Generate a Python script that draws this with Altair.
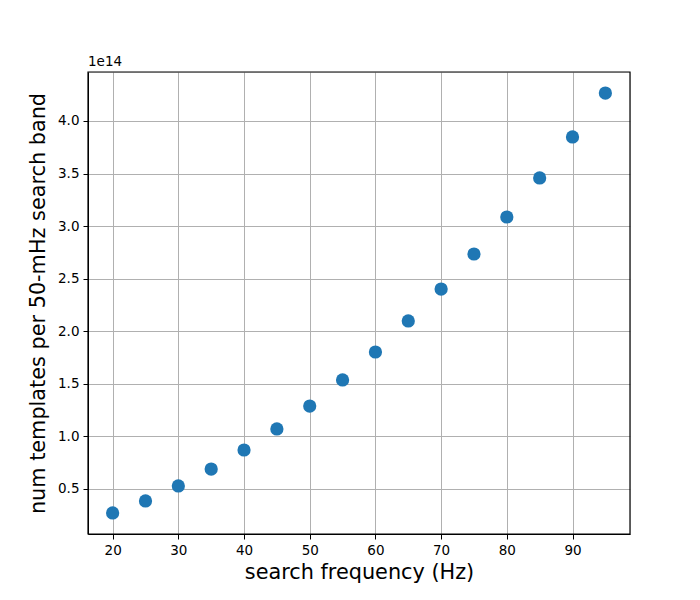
import altair as alt
import pandas as pd

freq = [20, 25, 30, 35, 40, 45, 50, 55, 60, 65, 70, 75, 80, 85, 90, 95]
templates_e14 = [0.272, 0.386, 0.529, 0.690, 0.871, 1.071, 1.289, 1.537,
                 1.803, 2.098, 2.402, 2.735, 3.087, 3.458, 3.848, 4.266]
x_ticks = [20, 30, 40, 50, 60, 70, 80, 90]
y_ticks = [0.5, 1.0, 1.5, 2.0, 2.5, 3.0, 3.5, 4.0]

df = pd.DataFrame({"f": freq, "n": templates_e14})
FONT = "DejaVu Sans"
W, H = 542, 462

points = alt.Chart(df).mark_circle(size=175, color="#1f77b4", opacity=1).encode(
    x=alt.X("f:Q", scale=alt.Scale(domain=[16.25, 98.75], nice=False, zero=False),
            axis=alt.Axis(values=x_ticks, title="search frequency (Hz)", format="d",
                          grid=True, gridColor="#b0b0b0", gridWidth=1,
                          domainColor="black", tickColor="black", tickSize=5,
                          labelFont=FONT, labelFontSize=13.5, labelColor="black", labelPadding=4,
                          titleFont=FONT, titleFontSize=20.8, titleFontWeight="normal",
                          titleColor="black", titlePadding=6)),
    y=alt.Y("n:Q", scale=alt.Scale(domain=[0.072, 4.466], nice=False, zero=False),
            axis=alt.Axis(values=y_ticks, title="num templates per 50-mHz search band", format=".1f",
                          grid=True, gridColor="#b0b0b0", gridWidth=1,
                          domainColor="black", tickColor="black", tickSize=5,
                          labelFont=FONT, labelFontSize=13.5, labelColor="black", labelPadding=4,
                          titleFont=FONT, titleFontSize=20.8, titleFontWeight="normal",
                          titleColor="black", titlePadding=9)),
)

frame = alt.Chart(pd.DataFrame({"a": [0]})).mark_rect(
    fill=None, stroke="black", strokeWidth=1.2
).encode(x=alt.value(0), x2=alt.value(W), y=alt.value(0), y2=alt.value(H))

offset = alt.Chart(pd.DataFrame({"t": ["1e14"]})).mark_text(
    font=FONT, fontSize=13.5, color="black", align="left", baseline="bottom", dy=-3
).encode(x=alt.value(0), y=alt.value(0), text="t:N")

chart = alt.layer(points, frame, offset).properties(
    width=W, height=H,
    padding={"left": 80, "top": 64, "right": 60, "bottom": 58},
    autosize=alt.AutoSizeParams(type="none"),
).configure_view(strokeWidth=0).configure(background="white")

chart.save("out.html", embed_options={"renderer": "svg", "actions": False})
